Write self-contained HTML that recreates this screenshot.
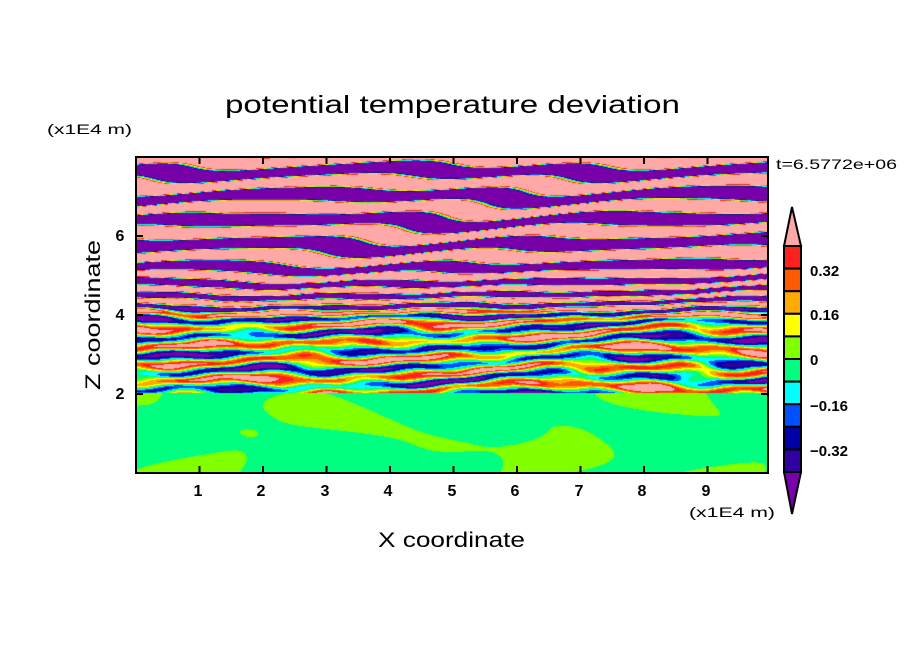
<!DOCTYPE html>
<html><head><meta charset="utf-8"><style>
html,body{margin:0;padding:0;background:#fff;width:904px;height:654px;overflow:hidden}
#c{position:absolute;left:136px;top:157px}
svg{position:absolute;left:0;top:0}
text{font-family:"Liberation Sans",sans-serif;fill:#000}
</style></head><body>
<canvas id="c" width="632" height="316"></canvas>
<svg width="904" height="654" xmlns="http://www.w3.org/2000/svg">
<text x="225" y="113" font-size="25" textLength="455" lengthAdjust="spacingAndGlyphs">potential temperature deviation</text>
<text x="47" y="134" font-size="14" textLength="85" lengthAdjust="spacingAndGlyphs">(x1E4 m)</text>
<text x="689" y="517" font-size="14" textLength="86" lengthAdjust="spacingAndGlyphs">(x1E4 m)</text>
<text x="776" y="169" font-size="14" textLength="121" lengthAdjust="spacingAndGlyphs">t=6.5772e+06</text>
<text x="378" y="547" font-size="21" textLength="147" lengthAdjust="spacingAndGlyphs">X coordinate</text>
<text transform="translate(100,390) rotate(-90)" font-size="21" textLength="150" lengthAdjust="spacingAndGlyphs">Z coordinate</text>
<g font-size="16" text-anchor="middle" font-weight="bold">
<text x="198" y="496">1</text><text x="261" y="496">2</text><text x="325" y="496">3</text><text x="388" y="496">4</text><text x="452" y="496">5</text><text x="515" y="496">6</text><text x="579" y="496">7</text><text x="642" y="496">8</text><text x="706" y="496">9</text>
<text x="120" y="399">2</text><text x="120" y="320">4</text><text x="120" y="241">6</text>
</g>
<rect x="136" y="157" width="632" height="316" fill="none" stroke="#000" stroke-width="2"/>
<g id="ticks" stroke="#000" stroke-width="2"></g>
<g stroke="#000" stroke-width="2">
<polygon points="792,207 784,246 801,246" fill="#ffa8a8"/>
<polygon points="792,514 784,472 801,472" fill="#7a00aa"/>
</g>
<g id="cb" stroke="#000" stroke-width="2"></g>
<g font-size="15" font-weight="bold">
<text x="810" y="276">0.32</text><text x="810" y="320">0.16</text><text x="810" y="365">0</text><text x="810" y="411">−0.16</text><text x="810" y="456">−0.32</text>
</g>
</svg>
<script>
var cols=["#7800a8","#3000a0","#0000a8","#0050ff","#00ffff","#00ff80","#80ff00","#ffff00","#ffaa00","#ff5a00","#ff2020","#ffa8a8"];
var cb=document.getElementById('cb'),ns="http://www.w3.org/2000/svg";
for(var i=0;i<10;i++){var r=document.createElementNS(ns,'rect');r.setAttribute('x',784);r.setAttribute('y',246+i*22.6);r.setAttribute('width',17);r.setAttribute('height',22.6);r.setAttribute('fill',cols[10-i]);cb.appendChild(r);}
var tk=document.getElementById('ticks'),s='';
for(var k=1;k<=9;k++){var x=136+k*63.5;s+='<line x1="'+x+'" y1="473" x2="'+x+'" y2="466"/><line x1="'+x+'" y1="157" x2="'+x+'" y2="164"/>';}
for(var k=1;k<=3;k++){var y=473-k*79;s+='<line x1="136" y1="'+y+'" x2="143" y2="'+y+'"/><line x1="768" y1="'+y+'" x2="761" y2="'+y+'"/>';}
tk.innerHTML=s;
var c=document.getElementById('c').getContext('2d');
function rgb(h){return [parseInt(h.substr(1,2),16),parseInt(h.substr(3,2),16),parseInt(h.substr(5,2),16)];}
var C=cols.map(rgb);
var W=632,H=316,img=c.createImageData(W,H),d=img.data;
function sm(t){return t<0?0:t>1?1:t*t*(3-2*t);}
for(var py=0;py<H;py++)for(var px=0;px<W;px++){
 var v,idx;
 if(py>=236){
  v=0.025*Math.sin(px*0.022+py*0.04)+0.03*Math.sin(px*0.013-py*0.08+1.3)+0.025*Math.sin(px*0.035+Math.sin(py*0.06)*2)-0.022;
  idx=v>0?6:5;
 }else{
  var t=sm((py-100)/70);
  var wa=1-0.4*(1-t);
  var warp=wa*(5*Math.sin(px*0.008+py*0.02)+3*Math.sin(px*0.019+1.7+py*0.05)+2*Math.sin(px*0.045+py*0.13))+1.2*t*Math.sin(px*0.09-py*0.2)+(1-t)*3*Math.sin(px*0.03+py*0.11);
  var lam=24-6*t;
  var ph=(py+warp+0.012*px)/lam*2*Math.PI;
  var amp=1.6*(1-t)+0.32*t;
  v=amp*Math.sin(ph)+0.12*t*Math.sin(px*0.04+py*0.3)+0.1*t*Math.sin(px*0.017-py*0.17)+0.03*t;
  idx=Math.floor((v+0.4)/0.08)+1;
  if(idx<0)idx=0;if(idx>11)idx=11;
 }
 var col=C[idx],o=(py*W+px)*4;d[o]=col[0];d[o+1]=col[1];d[o+2]=col[2];d[o+3]=255;
}
c.putImageData(img,0,0);
</script>
</body></html>
